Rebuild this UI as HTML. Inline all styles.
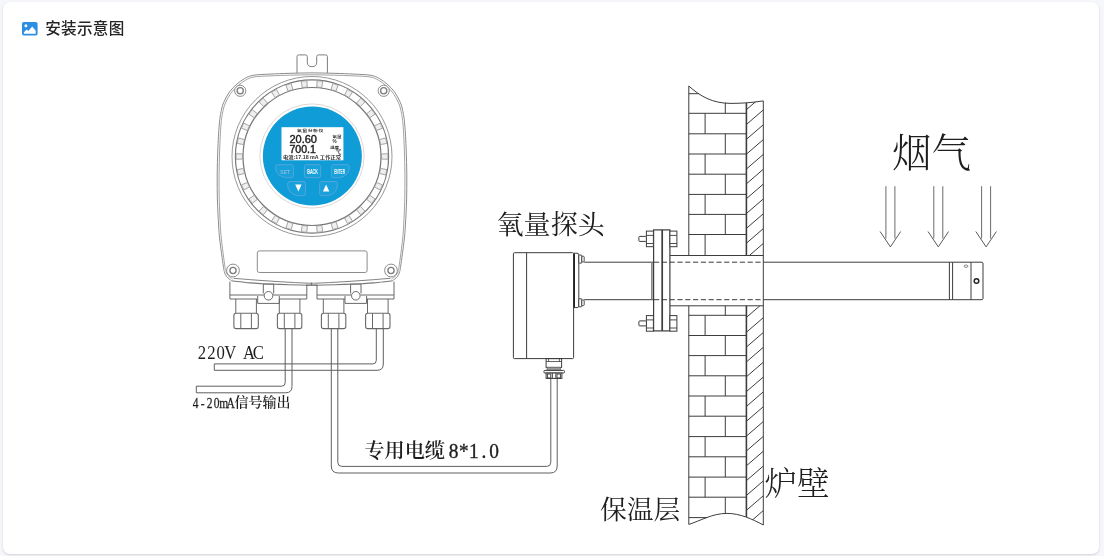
<!DOCTYPE html>
<html lang="zh-CN">
<head>
<meta charset="utf-8">
<title>安装示意图</title>
<style>
html,body{margin:0;padding:0;}
body{width:1104px;height:556px;overflow:hidden;background:#f6f7fa;font-family:"Liberation Sans","Noto Sans CJK SC",sans-serif;position:relative;}
.card{position:absolute;left:3px;top:2px;width:1096.2px;height:551.6px;background:#fff;border-radius:7px;box-shadow:0 1px 3px rgba(0,0,0,.10),0 1px 2px rgba(0,0,0,.06);}
.hd{position:absolute;left:22px;top:17px;height:24px;line-height:24px;font-size:15.6px;letter-spacing:0.3px;color:#262626;white-space:nowrap;will-change:transform;}
.hd svg{position:absolute;left:0;top:5px;}
.hd span{position:absolute;left:23.2px;top:0.3px;font-weight:500;}
.dia{position:absolute;left:0;top:0;width:1104px;height:556px;will-change:transform;}
</style>
</head>
<body>
<div class="card"></div>
<div class="hd">
<svg width="16" height="14" viewBox="0 0 16 14"><rect x="0" y="0" width="15.6" height="13.6" rx="1.8" fill="#2d8fe3"/><circle cx="3.9" cy="3.7" r="1.5" fill="#fff"/><path d="M1.9 11.7 L1.9 10.2 L4.7 7.4 L6.3 9 L10.2 4.6 L13.7 8.8 L13.7 11.7 Z" fill="#fff"/></svg>
<span>安装示意图</span>
</div>
<svg class="dia" width="1104" height="556" viewBox="0 0 1104 556" fill="none" stroke-linecap="butt">
<path d="M297 73.2 L297 56.6 Q297 54.9 298.7 54.9 L305.6 54.9 Q307.3 54.9 307.3 56.6 L307.3 62.2 Q307.3 66.7 312 66.7 Q316.7 66.7 316.7 62.2 L316.7 56.6 Q316.7 54.9 318.4 54.9 L325.7 54.9 Q327.4 54.9 327.4 56.6 L327.4 73.2" fill="none" stroke="#7d7d7d" stroke-width="1" />
<path d="M231.40 280.50 C230.60 279.87 227.77 278.15 226.60 276.70 C225.43 275.25 224.95 273.58 224.40 271.80 C223.85 270.02 224.07 271.30 223.30 266.00 C222.53 260.70 220.58 246.83 219.80 240.00 C219.02 233.17 219.00 231.67 218.60 225.00 C218.20 218.33 217.63 208.33 217.40 200.00 C217.17 191.67 217.13 183.33 217.20 175.00 C217.27 166.67 217.45 158.50 217.80 150.00 C218.15 141.50 218.72 130.60 219.30 124.00 C219.88 117.40 220.52 114.10 221.30 110.40 C222.08 106.70 222.65 104.87 224.00 101.80 C225.35 98.73 227.23 94.97 229.40 92.00 C231.57 89.03 234.48 86.23 237.00 84.00 C239.52 81.77 241.82 80.05 244.50 78.60 C247.18 77.15 248.85 76.05 253.10 75.30 C257.35 74.55 263.85 74.43 270.00 74.10 C276.15 73.77 283.00 73.50 290.00 73.30 C297.00 73.10 304.67 72.90 312.00 72.90 C319.33 72.90 327.00 73.10 334.00 73.30 C341.00 73.50 347.85 73.77 354.00 74.10 C360.15 74.43 366.65 74.55 370.90 75.30 C375.15 76.05 376.82 77.15 379.50 78.60 C382.18 80.05 384.48 81.77 387.00 84.00 C389.52 86.23 392.43 89.03 394.60 92.00 C396.77 94.97 398.65 98.73 400.00 101.80 C401.35 104.87 401.92 106.70 402.70 110.40 C403.48 114.10 404.12 117.40 404.70 124.00 C405.28 130.60 405.85 141.50 406.20 150.00 C406.55 158.50 406.73 166.67 406.80 175.00 C406.87 183.33 406.83 191.67 406.60 200.00 C406.37 208.33 405.80 218.33 405.40 225.00 C405.00 231.67 404.98 233.17 404.20 240.00 C403.42 246.83 401.47 260.70 400.70 266.00 C399.93 271.30 400.15 270.02 399.60 271.80 C399.05 273.58 398.57 275.25 397.40 276.70 C396.23 278.15 393.40 279.87 392.60 280.50 L392.60 280.80 C389.50 281.15 379.22 282.42 374.00 282.90 C368.78 283.38 366.30 283.45 361.30 283.70 C356.30 283.95 350.22 284.18 344.00 284.40 C337.78 284.62 329.33 284.87 324.00 285.00 C318.67 285.13 316.00 285.20 312.00 285.20 C308.00 285.20 305.33 285.13 300.00 285.00 C294.67 284.87 286.22 284.62 280.00 284.40 C273.78 284.18 267.70 283.95 262.70 283.70 C257.70 283.45 255.22 283.38 250.00 282.90 C244.78 282.42 234.50 281.15 231.40 280.80 Z" fill="#fff" stroke="none" stroke-width="0" />
<path d="M231.40 280.50 C230.60 279.87 227.77 278.15 226.60 276.70 C225.43 275.25 224.95 273.58 224.40 271.80 C223.85 270.02 224.07 271.30 223.30 266.00 C222.53 260.70 220.58 246.83 219.80 240.00 C219.02 233.17 219.00 231.67 218.60 225.00 C218.20 218.33 217.63 208.33 217.40 200.00 C217.17 191.67 217.13 183.33 217.20 175.00 C217.27 166.67 217.45 158.50 217.80 150.00 C218.15 141.50 218.72 130.60 219.30 124.00 C219.88 117.40 220.52 114.10 221.30 110.40 C222.08 106.70 222.65 104.87 224.00 101.80 C225.35 98.73 227.23 94.97 229.40 92.00 C231.57 89.03 234.48 86.23 237.00 84.00 C239.52 81.77 241.82 80.05 244.50 78.60 C247.18 77.15 248.85 76.05 253.10 75.30 C257.35 74.55 263.85 74.43 270.00 74.10 C276.15 73.77 283.00 73.50 290.00 73.30 C297.00 73.10 304.67 72.90 312.00 72.90 C319.33 72.90 327.00 73.10 334.00 73.30 C341.00 73.50 347.85 73.77 354.00 74.10 C360.15 74.43 366.65 74.55 370.90 75.30 C375.15 76.05 376.82 77.15 379.50 78.60 C382.18 80.05 384.48 81.77 387.00 84.00 C389.52 86.23 392.43 89.03 394.60 92.00 C396.77 94.97 398.65 98.73 400.00 101.80 C401.35 104.87 401.92 106.70 402.70 110.40 C403.48 114.10 404.12 117.40 404.70 124.00 C405.28 130.60 405.85 141.50 406.20 150.00 C406.55 158.50 406.73 166.67 406.80 175.00 C406.87 183.33 406.83 191.67 406.60 200.00 C406.37 208.33 405.80 218.33 405.40 225.00 C405.00 231.67 404.98 233.17 404.20 240.00 C403.42 246.83 401.47 260.70 400.70 266.00 C399.93 271.30 400.15 270.02 399.60 271.80 C399.05 273.58 398.57 275.25 397.40 276.70 C396.23 278.15 393.40 279.87 392.60 280.50" fill="none" stroke="#8c8c8c" stroke-width="1" />
<path d="M232.56 279.00 C231.77 278.37 228.98 276.68 227.83 275.25 C226.68 273.82 226.21 272.17 225.68 270.40 C225.15 268.63 225.35 269.89 224.63 264.65 C223.91 259.40 222.09 245.67 221.36 238.92 C220.64 232.16 220.64 230.68 220.28 224.12 C219.93 217.55 219.44 207.72 219.24 199.53 C219.04 191.35 219.03 183.19 219.10 175.02 C219.16 166.85 219.32 158.85 219.63 150.51 C219.94 142.16 220.42 131.43 220.96 124.93 C221.49 118.43 222.09 115.16 222.84 111.51 C223.59 107.86 224.14 106.05 225.45 103.02 C226.77 100.00 228.61 96.28 230.73 93.35 C232.86 90.43 235.73 87.67 238.20 85.47 C240.68 83.27 242.94 81.58 245.58 80.16 C248.23 78.74 249.87 77.66 254.06 76.94 C258.25 76.22 264.67 76.15 270.72 75.86 C276.78 75.56 283.52 75.33 290.40 75.16 C297.28 74.98 304.80 74.80 312.00 74.80 C319.20 74.80 326.72 74.98 333.60 75.16 C340.48 75.33 347.22 75.56 353.28 75.86 C359.33 76.15 365.75 76.22 369.94 76.94 C374.13 77.66 375.77 78.74 378.42 80.16 C381.06 81.58 383.32 83.27 385.80 85.47 C388.27 87.67 391.14 90.43 393.27 93.35 C395.39 96.28 397.23 100.00 398.55 103.02 C399.86 106.05 400.41 107.86 401.16 111.51 C401.91 115.16 402.51 118.43 403.04 124.93 C403.58 131.43 404.06 142.16 404.37 150.51 C404.68 158.85 404.84 166.85 404.90 175.02 C404.97 183.19 404.96 191.35 404.76 199.53 C404.56 207.72 404.07 217.55 403.72 224.12 C403.36 230.68 403.36 232.16 402.64 238.92 C401.91 245.67 400.09 259.40 399.37 264.65 C398.65 269.89 398.85 268.63 398.32 270.40 C397.79 272.17 397.32 273.82 396.17 275.25 C395.02 276.68 392.23 278.37 391.44 279.00" fill="none" stroke="#8c8c8c" stroke-width="0.8" />
<path d="M231.40 280.80 C234.50 281.15 244.78 282.42 250.00 282.90 C255.22 283.38 257.70 283.45 262.70 283.70 C267.70 283.95 273.78 284.18 280.00 284.40 C286.22 284.62 294.67 284.87 300.00 285.00 C305.33 285.13 308.00 285.20 312.00 285.20 C316.00 285.20 318.67 285.13 324.00 285.00 C329.33 284.87 337.78 284.62 344.00 284.40 C350.22 284.18 356.30 283.95 361.30 283.70 C366.30 283.45 368.78 283.38 374.00 282.90 C379.22 282.42 389.50 281.15 392.60 280.80" fill="none" stroke="#777" stroke-width="1.1" />
<path d="M233.60 278.30 C236.67 278.55 245.60 279.32 252.00 279.80 C258.40 280.28 265.67 280.78 272.00 281.20 C278.33 281.62 284.33 281.98 290.00 282.30 C295.67 282.62 302.33 282.95 306.00 283.10 C309.67 283.25 310.00 283.20 312.00 283.20 C314.00 283.20 314.33 283.25 318.00 283.10 C321.67 282.95 328.33 282.62 334.00 282.30 C339.67 281.98 345.67 281.62 352.00 281.20 C358.33 280.78 365.60 280.28 372.00 279.80 C378.40 279.32 387.33 278.55 390.40 278.30" fill="none" stroke="#808080" stroke-width="1" />
<circle cx="240.20" cy="90.80" r="5.60" fill="#fff" stroke="#8c8c8c" stroke-width="1"/>
<circle cx="240.20" cy="90.80" r="3.10" fill="none" stroke="#7c7c7c" stroke-width="1.3"/>
<circle cx="383.70" cy="90.80" r="5.60" fill="#fff" stroke="#8c8c8c" stroke-width="1"/>
<circle cx="383.70" cy="90.80" r="3.10" fill="none" stroke="#7c7c7c" stroke-width="1.3"/>
<circle cx="233.00" cy="270.50" r="6.40" fill="#fff" stroke="#8c8c8c" stroke-width="1"/>
<circle cx="233.00" cy="270.50" r="3.10" fill="none" stroke="#7c7c7c" stroke-width="1.3"/>
<circle cx="391.00" cy="270.50" r="6.40" fill="#fff" stroke="#8c8c8c" stroke-width="1"/>
<circle cx="391.00" cy="270.50" r="3.10" fill="none" stroke="#7c7c7c" stroke-width="1.3"/>
<circle cx="312.00" cy="156.50" r="80.00" fill="none" stroke="#8c8c8c" stroke-width="0.9"/>
<circle cx="312.00" cy="156.50" r="76.60" fill="none" stroke="#777" stroke-width="1.2"/>
<circle cx="312.00" cy="156.50" r="69.00" fill="none" stroke="#777" stroke-width="1.2"/>
<path d="M307.27 87.06 L306.83 80.68 L301.29 81.26 L302.19 87.59 Z" fill="#efefef" stroke="#909090" stroke-width="0.8" />
<path d="M292.93 89.56 L291.18 83.41 L285.88 85.13 L288.08 91.14 Z" fill="#efefef" stroke="#909090" stroke-width="0.8" />
<path d="M279.43 94.99 L276.44 89.33 L271.61 92.12 L275.01 97.54 Z" fill="#efefef" stroke="#909090" stroke-width="0.8" />
<path d="M267.36 103.11 L263.25 98.20 L259.11 101.92 L263.56 106.52 Z" fill="#efefef" stroke="#909090" stroke-width="0.8" />
<path d="M257.23 113.55 L252.19 109.61 L248.92 114.11 L254.23 117.68 Z" fill="#efefef" stroke="#909090" stroke-width="0.8" />
<path d="M249.50 125.88 L243.75 123.06 L241.48 128.15 L247.42 130.54 Z" fill="#efefef" stroke="#909090" stroke-width="0.8" />
<path d="M244.50 139.54 L238.29 137.99 L237.13 143.43 L243.44 144.53 Z" fill="#efefef" stroke="#909090" stroke-width="0.8" />
<path d="M242.45 153.95 L236.05 153.72 L236.05 159.28 L242.45 159.05 Z" fill="#efefef" stroke="#909090" stroke-width="0.8" />
<path d="M243.44 168.47 L237.13 169.57 L238.29 175.01 L244.50 173.46 Z" fill="#efefef" stroke="#909090" stroke-width="0.8" />
<path d="M247.42 182.46 L241.48 184.85 L243.75 189.94 L249.50 187.12 Z" fill="#efefef" stroke="#909090" stroke-width="0.8" />
<path d="M254.23 195.32 L248.92 198.89 L252.19 203.39 L257.23 199.45 Z" fill="#efefef" stroke="#909090" stroke-width="0.8" />
<path d="M263.56 206.48 L259.11 211.08 L263.25 214.80 L267.36 209.89 Z" fill="#efefef" stroke="#909090" stroke-width="0.8" />
<path d="M275.01 215.46 L271.61 220.88 L276.44 223.67 L279.43 218.01 Z" fill="#efefef" stroke="#909090" stroke-width="0.8" />
<path d="M288.08 221.86 L285.88 227.87 L291.18 229.59 L292.93 223.44 Z" fill="#efefef" stroke="#909090" stroke-width="0.8" />
<path d="M302.19 225.41 L301.29 231.74 L306.83 232.32 L307.27 225.94 Z" fill="#efefef" stroke="#909090" stroke-width="0.8" />
<path d="M316.73 225.94 L317.17 232.32 L322.71 231.74 L321.81 225.41 Z" fill="#efefef" stroke="#909090" stroke-width="0.8" />
<path d="M331.07 223.44 L332.82 229.59 L338.12 227.87 L335.92 221.86 Z" fill="#efefef" stroke="#909090" stroke-width="0.8" />
<path d="M344.57 218.01 L347.56 223.67 L352.39 220.88 L348.99 215.46 Z" fill="#efefef" stroke="#909090" stroke-width="0.8" />
<path d="M356.64 209.89 L360.75 214.80 L364.89 211.08 L360.44 206.48 Z" fill="#efefef" stroke="#909090" stroke-width="0.8" />
<path d="M366.77 199.45 L371.81 203.39 L375.08 198.89 L369.77 195.32 Z" fill="#efefef" stroke="#909090" stroke-width="0.8" />
<path d="M374.50 187.12 L380.25 189.94 L382.52 184.85 L376.58 182.46 Z" fill="#efefef" stroke="#909090" stroke-width="0.8" />
<path d="M379.50 173.46 L385.71 175.01 L386.87 169.57 L380.56 168.47 Z" fill="#efefef" stroke="#909090" stroke-width="0.8" />
<path d="M381.55 159.05 L387.95 159.28 L387.95 153.72 L381.55 153.95 Z" fill="#efefef" stroke="#909090" stroke-width="0.8" />
<path d="M380.56 144.53 L386.87 143.43 L385.71 137.99 L379.50 139.54 Z" fill="#efefef" stroke="#909090" stroke-width="0.8" />
<path d="M376.58 130.54 L382.52 128.15 L380.25 123.06 L374.50 125.88 Z" fill="#efefef" stroke="#909090" stroke-width="0.8" />
<path d="M369.77 117.68 L375.08 114.11 L371.81 109.61 L366.77 113.55 Z" fill="#efefef" stroke="#909090" stroke-width="0.8" />
<path d="M360.44 106.52 L364.89 101.92 L360.75 98.20 L356.64 103.11 Z" fill="#efefef" stroke="#909090" stroke-width="0.8" />
<path d="M348.99 97.54 L352.39 92.12 L347.56 89.33 L344.57 94.99 Z" fill="#efefef" stroke="#909090" stroke-width="0.8" />
<path d="M335.92 91.14 L338.12 85.13 L332.82 83.41 L331.07 89.56 Z" fill="#efefef" stroke="#909090" stroke-width="0.8" />
<path d="M321.81 87.59 L322.71 81.26 L317.17 80.68 L316.73 87.06 Z" fill="#efefef" stroke="#909090" stroke-width="0.8" />
<circle cx="312.00" cy="156.00" r="52.10" fill="none" stroke="#d8cdca" stroke-width="0.8"/>
<circle cx="312.35" cy="156.10" r="49.50" fill="#109cd7" stroke="none" stroke-width="0"/>
<rect x="281.50" y="127.20" width="61.90" height="33.10" rx="0" fill="#fff" stroke="none" stroke-width="0"/>
<text transform="translate(310.4,132.4) scale(1,0.78)" x="0" y="0" font-family="'Liberation Sans','Noto Sans CJK SC',sans-serif" font-size="5" font-weight="700" fill="#333" text-anchor="middle" letter-spacing="0.4">氧量分析仪</text>
<text x="289.4" y="143" font-family="'Liberation Sans','Noto Sans CJK SC',sans-serif" font-size="10.2" fill="#222" stroke="#222" stroke-width="0.4" textLength="27.6" lengthAdjust="spacingAndGlyphs">20.60</text>
<text x="289.4" y="152.9" font-family="'Liberation Sans','Noto Sans CJK SC',sans-serif" font-size="10.2" fill="#222" stroke="#222" stroke-width="0.4" textLength="26.6" lengthAdjust="spacingAndGlyphs">700.1</text>
<text transform="translate(332.5,137.8) scale(1,0.85)" x="0" y="0" font-family="'Liberation Sans','Noto Sans CJK SC',sans-serif" font-size="4.6" font-weight="700" fill="#333">氧量</text>
<text x="332.4" y="143" font-family="'Liberation Sans','Noto Sans CJK SC',sans-serif" font-size="4.6" font-weight="700" fill="#333">%</text>
<text transform="translate(329.9,148.7) scale(1,0.85)" x="0" y="0" font-family="'Liberation Sans','Noto Sans CJK SC',sans-serif" font-size="4.6" font-weight="700" fill="#333">温度</text>
<text x="336.2" y="153.6" font-family="'Liberation Sans','Noto Sans CJK SC',sans-serif" font-size="5.2" font-weight="700" fill="#333">℃</text>
<text x="283" y="159.3" font-family="'Liberation Sans','Noto Sans CJK SC',sans-serif" font-size="4.6" font-weight="700" fill="#333" textLength="58" lengthAdjust="spacingAndGlyphs">电流:17.18 mA 工作正常</text>
<path d="M278.1 164.7 L291.40000000000003 164.7 Q293.40000000000003 164.7 293.40000000000003 166.7 L293.40000000000003 175.7 Q293.40000000000003 177.7 291.40000000000003 177.7 L285.39000000000004 177.7 Q275.6 175.7 275.6 167.2 Q275.6 164.7 278.1 164.7 Z" fill="#18a0da" stroke="#5aa6dc" stroke-width="0.9" />
<path d="M306.4 164.7 L318.7 164.7 Q320.7 164.7 320.7 166.7 L320.7 175.7 Q320.7 177.7 318.7 177.7 L306.4 177.7 Q304.4 177.7 304.4 175.7 L304.4 166.7 Q304.4 164.7 306.4 164.7 Z" fill="#18a0da" stroke="#5aa6dc" stroke-width="0.9" />
<path d="M333.6 164.7 L346.90000000000003 164.7 Q349.40000000000003 164.7 349.40000000000003 167.2 Q349.40000000000003 175.7 339.61 177.7 L333.6 177.7 Q331.6 177.7 331.6 175.7 L331.6 166.7 Q331.6 164.7 333.6 164.7 Z" fill="#18a0da" stroke="#5aa6dc" stroke-width="0.9" />
<path d="M290.1 181.5 L303.40000000000003 181.5 Q305.40000000000003 181.5 305.40000000000003 183.5 L305.40000000000003 193.7 Q305.40000000000003 195.7 303.40000000000003 195.7 L297.39000000000004 195.7 Q287.6 193.7 287.6 184.0 Q287.6 181.5 290.1 181.5 Z" fill="#18a0da" stroke="#5aa6dc" stroke-width="0.9" />
<path d="M321.7 181.5 L335.0 181.5 Q337.5 181.5 337.5 184.0 Q337.5 193.7 327.71 195.7 L321.7 195.7 Q319.7 195.7 319.7 193.7 L319.7 183.5 Q319.7 181.5 321.7 181.5 Z" fill="#18a0da" stroke="#5aa6dc" stroke-width="0.9" />
<text x="280.3" y="173.5" font-family="'Liberation Sans','Noto Sans CJK SC',sans-serif" font-size="5.6" font-weight="700" fill="#8fb8da" textLength="9.8" lengthAdjust="spacingAndGlyphs">SET</text>
<text x="307.2" y="173.8" font-family="'Liberation Sans','Noto Sans CJK SC',sans-serif" font-size="6.6" font-weight="700" fill="#fff" textLength="10.8" lengthAdjust="spacingAndGlyphs">BACK</text>
<text x="334.2" y="173.8" font-family="'Liberation Sans','Noto Sans CJK SC',sans-serif" font-size="6.6" font-weight="700" fill="#fff" textLength="10.8" lengthAdjust="spacingAndGlyphs">ENTER</text>
<path d="M295.2 184.6 L301.6 184.6 L298.4 191.6 Z" fill="#fff" stroke="none" stroke-width="0" />
<path d="M322.9 191.6 L329.3 191.6 L326.1 184.6 Z" fill="#fff" stroke="none" stroke-width="0" />
<rect x="257.30" y="250.90" width="109.80" height="21.60" rx="2" fill="none" stroke="#8c8c8c" stroke-width="1"/>
<line x1="229.90" y1="281.60" x2="229.90" y2="299.00" stroke="#686868" stroke-width="1" />
<line x1="306.80" y1="284.60" x2="306.80" y2="299.00" stroke="#686868" stroke-width="1" />
<line x1="229.90" y1="295.00" x2="263.90" y2="295.00" stroke="#686868" stroke-width="1" />
<line x1="273.10" y1="295.00" x2="306.80" y2="295.00" stroke="#686868" stroke-width="1" />
<line x1="229.90" y1="299.00" x2="257.70" y2="299.00" stroke="#686868" stroke-width="1" />
<line x1="279.30" y1="299.00" x2="306.80" y2="299.00" stroke="#686868" stroke-width="1" />
<line x1="263.30" y1="284.00" x2="263.30" y2="293.50" stroke="#686868" stroke-width="1" />
<line x1="273.70" y1="284.00" x2="273.70" y2="293.50" stroke="#686868" stroke-width="1" />
<line x1="263.30" y1="284.20" x2="273.70" y2="284.20" stroke="#686868" stroke-width="0.8" />
<circle cx="268.50" cy="295.80" r="4.30" fill="#fff" stroke="#686868" stroke-width="1"/>
<path d="M257.7 296 L257.7 303.4 L279.3 303.4 L279.3 296" fill="none" stroke="#686868" stroke-width="1" />
<line x1="317.00" y1="284.60" x2="317.00" y2="299.00" stroke="#686868" stroke-width="1" />
<line x1="394.00" y1="281.60" x2="394.00" y2="299.00" stroke="#686868" stroke-width="1" />
<line x1="317.00" y1="295.00" x2="351.20" y2="295.00" stroke="#686868" stroke-width="1" />
<line x1="360.40" y1="295.00" x2="394.00" y2="295.00" stroke="#686868" stroke-width="1" />
<line x1="317.00" y1="299.00" x2="345.00" y2="299.00" stroke="#686868" stroke-width="1" />
<line x1="366.60" y1="299.00" x2="394.00" y2="299.00" stroke="#686868" stroke-width="1" />
<line x1="350.60" y1="284.00" x2="350.60" y2="293.50" stroke="#686868" stroke-width="1" />
<line x1="361.00" y1="284.00" x2="361.00" y2="293.50" stroke="#686868" stroke-width="1" />
<line x1="350.60" y1="284.20" x2="361.00" y2="284.20" stroke="#686868" stroke-width="0.8" />
<circle cx="355.80" cy="295.80" r="4.30" fill="#fff" stroke="#686868" stroke-width="1"/>
<path d="M345.0 296 L345.0 303.4 L366.6 303.4 L366.6 296" fill="none" stroke="#686868" stroke-width="1" />
<line x1="311.40" y1="282.60" x2="311.40" y2="285.00" stroke="#686868" stroke-width="0.9" />
<line x1="306.80" y1="285.00" x2="317.00" y2="285.00" stroke="#686868" stroke-width="0.8" />
<line x1="235.80" y1="299.00" x2="235.80" y2="313.30" stroke="#686868" stroke-width="1" />
<line x1="256.40" y1="299.00" x2="256.40" y2="313.30" stroke="#686868" stroke-width="1" />
<rect x="233.90" y="313.30" width="24.40" height="15.30" rx="2.2" fill="#fff" stroke="#686868" stroke-width="1.1"/>
<line x1="240.80" y1="313.30" x2="240.80" y2="328.60" stroke="#686868" stroke-width="1" />
<line x1="251.40" y1="313.30" x2="251.40" y2="328.60" stroke="#686868" stroke-width="1" />
<line x1="279.30" y1="299.00" x2="279.30" y2="313.30" stroke="#686868" stroke-width="1" />
<line x1="299.90" y1="299.00" x2="299.90" y2="313.30" stroke="#686868" stroke-width="1" />
<rect x="277.40" y="313.30" width="24.40" height="15.30" rx="2.2" fill="#fff" stroke="#686868" stroke-width="1.1"/>
<line x1="284.30" y1="313.30" x2="284.30" y2="328.60" stroke="#686868" stroke-width="1" />
<line x1="294.90" y1="313.30" x2="294.90" y2="328.60" stroke="#686868" stroke-width="1" />
<line x1="323.30" y1="299.00" x2="323.30" y2="313.30" stroke="#686868" stroke-width="1" />
<line x1="343.90" y1="299.00" x2="343.90" y2="313.30" stroke="#686868" stroke-width="1" />
<rect x="321.40" y="313.30" width="24.40" height="15.30" rx="2.2" fill="#fff" stroke="#686868" stroke-width="1.1"/>
<line x1="328.30" y1="313.30" x2="328.30" y2="328.60" stroke="#686868" stroke-width="1" />
<line x1="338.90" y1="313.30" x2="338.90" y2="328.60" stroke="#686868" stroke-width="1" />
<line x1="367.50" y1="299.00" x2="367.50" y2="313.30" stroke="#686868" stroke-width="1" />
<line x1="388.10" y1="299.00" x2="388.10" y2="313.30" stroke="#686868" stroke-width="1" />
<rect x="365.60" y="313.30" width="24.40" height="15.30" rx="2.2" fill="#fff" stroke="#686868" stroke-width="1.1"/>
<line x1="372.50" y1="313.30" x2="372.50" y2="328.60" stroke="#686868" stroke-width="1" />
<line x1="383.10" y1="313.30" x2="383.10" y2="328.60" stroke="#686868" stroke-width="1" />
<path d="M376.3 328.8 L376.3 360.4 Q376.3 363.9 372.8 363.9 L214.3 363.9 L214.3 370.3 L377 370.3 Q383.3 370.3 383.3 364 L383.3 328.8" fill="none" stroke="#5f5f5f" stroke-width="1" />
<path d="M285.2 328.8 L285.2 382.7 Q285.2 386.2 281.7 386.2 L196.3 386.2 L196.3 392.8 L285.7 392.8 Q292 392.8 292 386.5 L292 328.8" fill="none" stroke="#5f5f5f" stroke-width="1" />
<path d="M331.3 328.8 L331.3 466 Q331.3 473 338.3 473 L550.2 473 Q557.2 473 557.2 466 L557.2 378.4" fill="none" stroke="#5f5f5f" stroke-width="1" />
<path d="M337.8 328.8 L337.8 462.4 Q337.8 466.4 341.8 466.4 L546.8 466.4 Q550.8 466.4 550.8 462.4 L550.8 378.4" fill="none" stroke="#5f5f5f" stroke-width="1" />
<text transform="scale(0.86,1)" x="234.78 245.73 256.69 267.64 278.59 289.55 300.50" y="358.9" font-family="'Liberation Serif','Noto Serif CJK SC',serif" font-size="19.4" fill="#1e1e1e" text-anchor="middle" xml:space="preserve" >220V AC</text>
<text transform="scale(0.8,1)" x="244.62 253.37 262.12 270.87 279.62 288.37" y="407.6" font-family="'Liberation Serif','Noto Serif CJK SC',serif" font-size="14.4" fill="#1e1e1e" text-anchor="middle" xml:space="preserve" stroke="#1e1e1e" stroke-width="0.25">4-20mA</text>
<text x="234.6" y="407.4" font-family="'Liberation Serif','Noto Serif CJK SC',serif" font-size="14" font-weight="600" fill="#1e1e1e" textLength="56" lengthAdjust="spacing">信号输出</text>
<text x="364.4" y="458.2" font-family="'Liberation Serif','Noto Serif CJK SC',serif" font-size="20.2" font-weight="600" fill="#1e1e1e" textLength="80.6" lengthAdjust="spacing">专用电缆</text>
<text transform="scale(0.95,1)" x="477.53 488.16 498.79 509.42 520.05" y="458.2" font-family="'Liberation Serif','Noto Serif CJK SC',serif" font-size="20.4" fill="#1e1e1e" text-anchor="middle" xml:space="preserve" stroke="#1e1e1e" stroke-width="0.35">8*1.0</text>
<text x="496.6" y="234.1" font-family="'Liberation Serif','Noto Serif CJK SC',serif" font-size="26" fill="#1e1e1e" textLength="108.1" lengthAdjust="spacingAndGlyphs">氧量探头</text>
<text x="891.9" y="167.1" font-family="'Liberation Serif','Noto Serif CJK SC',serif" font-size="39.7" font-weight="300" fill="#1e1e1e" textLength="79.4" lengthAdjust="spacing">烟气</text>
<text x="764.4" y="495.1" font-family="'Liberation Serif','Noto Serif CJK SC',serif" font-size="32.6" font-weight="300" fill="#1e1e1e" textLength="65.2" lengthAdjust="spacing">炉壁</text>
<text x="600" y="518.5" font-family="'Liberation Serif','Noto Serif CJK SC',serif" font-size="26" fill="#1e1e1e" textLength="80.4" lengthAdjust="spacingAndGlyphs">保温层</text>
<rect x="513.40" y="252.70" width="60.20" height="105.90" rx="1" fill="none" stroke="#3c3c3c" stroke-width="1"/>
<line x1="526.60" y1="252.70" x2="526.60" y2="358.60" stroke="#3c3c3c" stroke-width="1" />
<line x1="574.20" y1="253.40" x2="574.20" y2="307.40" stroke="#222" stroke-width="1.6" />
<path d="M574 253.2 L577 253.2 Q578.8 253.2 578.8 255 L578.8 305.8 Q578.8 307.6 577 307.6 L574 307.6" fill="none" stroke="#3c3c3c" stroke-width="1" />
<rect x="578.80" y="255.10" width="3.00" height="8.00" rx="0.5" fill="#fff" stroke="#3c3c3c" stroke-width="1"/>
<rect x="581.80" y="256.30" width="2.40" height="5.60" rx="0.8" fill="#fff" stroke="#3c3c3c" stroke-width="0.9"/>
<rect x="578.80" y="298.80" width="3.00" height="8.00" rx="0.5" fill="#fff" stroke="#3c3c3c" stroke-width="1"/>
<rect x="581.80" y="300.00" width="2.40" height="5.60" rx="0.8" fill="#fff" stroke="#3c3c3c" stroke-width="0.9"/>
<rect x="546.10" y="358.60" width="15.50" height="8.80" rx="0" fill="none" stroke="#3c3c3c" stroke-width="1"/>
<line x1="548.60" y1="358.60" x2="548.60" y2="361.50" stroke="#3c3c3c" stroke-width="0.8" />
<line x1="559.40" y1="358.60" x2="559.40" y2="361.50" stroke="#3c3c3c" stroke-width="0.8" />
<line x1="546.10" y1="361.50" x2="561.60" y2="361.50" stroke="#3c3c3c" stroke-width="0.8" />
<rect x="547.00" y="367.20" width="13.70" height="3.00" rx="0" fill="#9a9a9a" stroke="#666" stroke-width="0.6"/>
<rect x="543.90" y="370.40" width="20.60" height="2.60" rx="1" fill="#fff" stroke="#3c3c3c" stroke-width="1"/>
<rect x="546.10" y="373.00" width="15.80" height="5.40" rx="0" fill="#fff" stroke="#3c3c3c" stroke-width="1"/>
<rect x="547.40" y="374.00" width="3.40" height="4.00" rx="0" fill="none" stroke="#333" stroke-width="0.9"/>
<rect x="557.00" y="374.00" width="3.40" height="4.00" rx="0" fill="none" stroke="#333" stroke-width="0.9"/>
<line x1="552.40" y1="373.00" x2="552.40" y2="378.40" stroke="#3c3c3c" stroke-width="0.9" />
<line x1="555.80" y1="373.00" x2="555.80" y2="378.40" stroke="#3c3c3c" stroke-width="0.9" />
<line x1="584.20" y1="262.20" x2="653.40" y2="262.20" stroke="#3c3c3c" stroke-width="1" />
<line x1="584.20" y1="299.70" x2="653.40" y2="299.70" stroke="#3c3c3c" stroke-width="1" />
<line x1="763.30" y1="262.20" x2="982.20" y2="262.20" stroke="#3c3c3c" stroke-width="1" />
<line x1="763.30" y1="299.70" x2="982.20" y2="299.70" stroke="#3c3c3c" stroke-width="1" />
<path d="M982.2 262.2 L983 263 L983 298.9 L982.2 299.7" fill="none" stroke="#3c3c3c" stroke-width="1" />
<line x1="949.40" y1="262.20" x2="949.40" y2="299.70" stroke="#3c3c3c" stroke-width="1" />
<line x1="952.60" y1="262.20" x2="952.60" y2="299.70" stroke="#3c3c3c" stroke-width="1" />
<line x1="971.00" y1="262.20" x2="971.00" y2="299.70" stroke="#3c3c3c" stroke-width="1" />
<ellipse cx="966" cy="266.2" rx="1.9" ry="1.2" stroke="#555" stroke-width="0.7" fill="#fff"/>
<circle cx="976.50" cy="281.00" r="2.30" fill="#fff" stroke="#222" stroke-width="1.5"/>
<line x1="669.80" y1="255.50" x2="763.30" y2="255.50" stroke="#3c3c3c" stroke-width="1" />
<line x1="669.80" y1="305.80" x2="763.30" y2="305.80" stroke="#3c3c3c" stroke-width="1" />
<rect x="653.60" y="229.90" width="16.30" height="101.00" rx="0" fill="#fff" stroke="#3c3c3c" stroke-width="1.2"/>
<line x1="662.20" y1="229.90" x2="662.20" y2="330.90" stroke="#3c3c3c" stroke-width="1.7" />
<line x1="651.90" y1="262.20" x2="651.90" y2="299.70" stroke="#777" stroke-width="1.5" />
<line x1="654.00" y1="262.20" x2="763.00" y2="262.20" stroke="#3c3c3c" stroke-width="1" stroke-dasharray="5.2 2.6"/>
<line x1="654.00" y1="299.70" x2="763.00" y2="299.70" stroke="#3c3c3c" stroke-width="1" stroke-dasharray="5.2 2.6"/>
<rect x="646.40" y="231.10" width="7.00" height="15.60" rx="0" fill="#fff" stroke="#3c3c3c" stroke-width="1"/>
<line x1="646.40" y1="235.40" x2="653.40" y2="235.40" stroke="#3c3c3c" stroke-width="0.9" />
<line x1="646.40" y1="243.50" x2="653.40" y2="243.50" stroke="#3c3c3c" stroke-width="0.9" />
<rect x="638.90" y="236.40" width="7.50" height="5.00" rx="0.8" fill="#fff" stroke="#3c3c3c" stroke-width="1"/>
<rect x="669.90" y="231.10" width="7.00" height="15.60" rx="0" fill="#fff" stroke="#3c3c3c" stroke-width="1"/>
<line x1="669.90" y1="235.40" x2="676.90" y2="235.40" stroke="#3c3c3c" stroke-width="0.9" />
<line x1="669.90" y1="243.50" x2="676.90" y2="243.50" stroke="#3c3c3c" stroke-width="0.9" />
<rect x="646.40" y="315.60" width="7.00" height="15.60" rx="0" fill="#fff" stroke="#3c3c3c" stroke-width="1"/>
<line x1="646.40" y1="319.90" x2="653.40" y2="319.90" stroke="#3c3c3c" stroke-width="0.9" />
<line x1="646.40" y1="328.00" x2="653.40" y2="328.00" stroke="#3c3c3c" stroke-width="0.9" />
<rect x="638.90" y="320.90" width="7.50" height="5.00" rx="0.8" fill="#fff" stroke="#3c3c3c" stroke-width="1"/>
<rect x="669.90" y="315.60" width="7.00" height="15.60" rx="0" fill="#fff" stroke="#3c3c3c" stroke-width="1"/>
<line x1="669.90" y1="319.90" x2="676.90" y2="319.90" stroke="#3c3c3c" stroke-width="0.9" />
<line x1="669.90" y1="328.00" x2="676.90" y2="328.00" stroke="#3c3c3c" stroke-width="0.9" />
<line x1="885.90" y1="186.20" x2="885.90" y2="238.50" stroke="#5a5a5a" stroke-width="0.9" />
<line x1="894.90" y1="186.20" x2="894.90" y2="238.50" stroke="#5a5a5a" stroke-width="0.9" />
<path d="M880.1 231.5 L890.4 246.9 L900.6999999999999 231.5" fill="none" stroke="#5a5a5a" stroke-width="1" />
<line x1="933.80" y1="186.20" x2="933.80" y2="238.50" stroke="#5a5a5a" stroke-width="0.9" />
<line x1="942.80" y1="186.20" x2="942.80" y2="238.50" stroke="#5a5a5a" stroke-width="0.9" />
<path d="M928.0 231.5 L938.3 246.9 L948.5999999999999 231.5" fill="none" stroke="#5a5a5a" stroke-width="1" />
<line x1="981.60" y1="186.20" x2="981.60" y2="238.50" stroke="#5a5a5a" stroke-width="0.9" />
<line x1="990.60" y1="186.20" x2="990.60" y2="238.50" stroke="#5a5a5a" stroke-width="0.9" />
<path d="M975.8000000000001 231.5 L986.1 246.9 L996.4 231.5" fill="none" stroke="#5a5a5a" stroke-width="1" />
<path d="M688.8 86 C700 96 712 103.4 731 103.4 C742 103.4 752 102.6 763.3 100.9" fill="none" stroke="#3c3c3c" stroke-width="1" />
<path d="M688.8 524.4 C700 521 712 513.4 727 513.4 C740 513.4 752 519 763.3 525" fill="none" stroke="#3c3c3c" stroke-width="1" />
<line x1="688.80" y1="86.00" x2="688.80" y2="255.60" stroke="#3c3c3c" stroke-width="1" />
<line x1="688.80" y1="305.80" x2="688.80" y2="524.40" stroke="#3c3c3c" stroke-width="1" />
<line x1="763.30" y1="100.90" x2="763.30" y2="525.00" stroke="#3c3c3c" stroke-width="1" />
<line x1="746.40" y1="103.00" x2="746.40" y2="255.60" stroke="#3c3c3c" stroke-width="1.6" />
<line x1="746.40" y1="305.80" x2="746.40" y2="517.00" stroke="#3c3c3c" stroke-width="1.6" />
<line x1="688.80" y1="93.70" x2="698.70" y2="93.70" stroke="#3c3c3c" stroke-width="1" />
<line x1="688.80" y1="113.30" x2="746.40" y2="113.30" stroke="#3c3c3c" stroke-width="1" />
<line x1="688.80" y1="133.80" x2="746.40" y2="133.80" stroke="#3c3c3c" stroke-width="1" />
<line x1="688.80" y1="154.00" x2="746.40" y2="154.00" stroke="#3c3c3c" stroke-width="1" />
<line x1="688.80" y1="174.20" x2="746.40" y2="174.20" stroke="#3c3c3c" stroke-width="1" />
<line x1="688.80" y1="194.40" x2="746.40" y2="194.40" stroke="#3c3c3c" stroke-width="1" />
<line x1="688.80" y1="214.40" x2="746.40" y2="214.40" stroke="#3c3c3c" stroke-width="1" />
<line x1="688.80" y1="234.50" x2="746.40" y2="234.50" stroke="#3c3c3c" stroke-width="1" />
<line x1="688.80" y1="315.30" x2="746.40" y2="315.30" stroke="#3c3c3c" stroke-width="1" />
<line x1="688.80" y1="335.50" x2="746.40" y2="335.50" stroke="#3c3c3c" stroke-width="1" />
<line x1="688.80" y1="355.60" x2="746.40" y2="355.60" stroke="#3c3c3c" stroke-width="1" />
<line x1="688.80" y1="375.80" x2="746.40" y2="375.80" stroke="#3c3c3c" stroke-width="1" />
<line x1="688.80" y1="396.00" x2="746.40" y2="396.00" stroke="#3c3c3c" stroke-width="1" />
<line x1="688.80" y1="416.20" x2="746.40" y2="416.20" stroke="#3c3c3c" stroke-width="1" />
<line x1="688.80" y1="436.60" x2="746.40" y2="436.60" stroke="#3c3c3c" stroke-width="1" />
<line x1="688.80" y1="456.80" x2="746.40" y2="456.80" stroke="#3c3c3c" stroke-width="1" />
<line x1="688.80" y1="477.10" x2="746.40" y2="477.10" stroke="#3c3c3c" stroke-width="1" />
<line x1="688.80" y1="497.20" x2="746.40" y2="497.20" stroke="#3c3c3c" stroke-width="1" />
<line x1="688.80" y1="517.60" x2="707.50" y2="517.60" stroke="#3c3c3c" stroke-width="1" />
<line x1="725.30" y1="102.60" x2="725.30" y2="113.30" stroke="#3c3c3c" stroke-width="1" />
<line x1="705.10" y1="113.30" x2="705.10" y2="133.80" stroke="#3c3c3c" stroke-width="1" />
<line x1="725.30" y1="133.80" x2="725.30" y2="154.00" stroke="#3c3c3c" stroke-width="1" />
<line x1="705.10" y1="154.00" x2="705.10" y2="174.20" stroke="#3c3c3c" stroke-width="1" />
<line x1="725.30" y1="174.20" x2="725.30" y2="194.40" stroke="#3c3c3c" stroke-width="1" />
<line x1="705.10" y1="194.40" x2="705.10" y2="214.40" stroke="#3c3c3c" stroke-width="1" />
<line x1="725.30" y1="214.40" x2="725.30" y2="234.50" stroke="#3c3c3c" stroke-width="1" />
<line x1="705.10" y1="234.50" x2="705.10" y2="255.60" stroke="#3c3c3c" stroke-width="1" />
<line x1="725.30" y1="305.80" x2="725.30" y2="315.30" stroke="#3c3c3c" stroke-width="1" />
<line x1="705.10" y1="315.30" x2="705.10" y2="335.50" stroke="#3c3c3c" stroke-width="1" />
<line x1="725.30" y1="335.50" x2="725.30" y2="355.60" stroke="#3c3c3c" stroke-width="1" />
<line x1="705.10" y1="355.60" x2="705.10" y2="375.80" stroke="#3c3c3c" stroke-width="1" />
<line x1="725.30" y1="375.80" x2="725.30" y2="396.00" stroke="#3c3c3c" stroke-width="1" />
<line x1="705.10" y1="396.00" x2="705.10" y2="416.20" stroke="#3c3c3c" stroke-width="1" />
<line x1="725.30" y1="416.20" x2="725.30" y2="436.60" stroke="#3c3c3c" stroke-width="1" />
<line x1="705.10" y1="436.60" x2="705.10" y2="456.80" stroke="#3c3c3c" stroke-width="1" />
<line x1="725.30" y1="456.80" x2="725.30" y2="477.10" stroke="#3c3c3c" stroke-width="1" />
<line x1="705.10" y1="477.10" x2="705.10" y2="497.20" stroke="#3c3c3c" stroke-width="1" />
<line x1="725.30" y1="497.20" x2="725.30" y2="514.00" stroke="#3c3c3c" stroke-width="1" />
<clipPath id="hc"><path d="M746.4 50 L746.4 103 L763.3 100.9 L763.3 255.6 L746.4 255.6 Z M746.4 305.8 L763.3 305.8 L763.3 525 L746.4 517 Z"/></clipPath>
<g clip-path="url(#hc)">
<line x1="746.40" y1="94.82" x2="763.30" y2="80.22" stroke="#3c3c3c" stroke-width="1" />
<line x1="746.40" y1="109.66" x2="763.30" y2="95.06" stroke="#3c3c3c" stroke-width="1" />
<line x1="746.40" y1="124.50" x2="763.30" y2="109.90" stroke="#3c3c3c" stroke-width="1" />
<line x1="746.40" y1="139.34" x2="763.30" y2="124.74" stroke="#3c3c3c" stroke-width="1" />
<line x1="746.40" y1="154.18" x2="763.30" y2="139.58" stroke="#3c3c3c" stroke-width="1" />
<line x1="746.40" y1="169.02" x2="763.30" y2="154.42" stroke="#3c3c3c" stroke-width="1" />
<line x1="746.40" y1="183.86" x2="763.30" y2="169.26" stroke="#3c3c3c" stroke-width="1" />
<line x1="746.40" y1="198.70" x2="763.30" y2="184.10" stroke="#3c3c3c" stroke-width="1" />
<line x1="746.40" y1="213.54" x2="763.30" y2="198.94" stroke="#3c3c3c" stroke-width="1" />
<line x1="746.40" y1="228.38" x2="763.30" y2="213.78" stroke="#3c3c3c" stroke-width="1" />
<line x1="746.40" y1="243.22" x2="763.30" y2="228.62" stroke="#3c3c3c" stroke-width="1" />
<line x1="746.40" y1="258.06" x2="763.30" y2="243.46" stroke="#3c3c3c" stroke-width="1" />
<line x1="746.40" y1="272.90" x2="763.30" y2="258.30" stroke="#3c3c3c" stroke-width="1" />
<line x1="746.40" y1="287.74" x2="763.30" y2="273.14" stroke="#3c3c3c" stroke-width="1" />
<line x1="746.40" y1="302.58" x2="763.30" y2="287.98" stroke="#3c3c3c" stroke-width="1" />
<line x1="746.40" y1="317.42" x2="763.30" y2="302.82" stroke="#3c3c3c" stroke-width="1" />
<line x1="746.40" y1="332.26" x2="763.30" y2="317.66" stroke="#3c3c3c" stroke-width="1" />
<line x1="746.40" y1="347.10" x2="763.30" y2="332.50" stroke="#3c3c3c" stroke-width="1" />
<line x1="746.40" y1="361.94" x2="763.30" y2="347.34" stroke="#3c3c3c" stroke-width="1" />
<line x1="746.40" y1="376.78" x2="763.30" y2="362.18" stroke="#3c3c3c" stroke-width="1" />
<line x1="746.40" y1="391.62" x2="763.30" y2="377.02" stroke="#3c3c3c" stroke-width="1" />
<line x1="746.40" y1="406.46" x2="763.30" y2="391.86" stroke="#3c3c3c" stroke-width="1" />
<line x1="746.40" y1="421.30" x2="763.30" y2="406.70" stroke="#3c3c3c" stroke-width="1" />
<line x1="746.40" y1="436.14" x2="763.30" y2="421.54" stroke="#3c3c3c" stroke-width="1" />
<line x1="746.40" y1="450.98" x2="763.30" y2="436.38" stroke="#3c3c3c" stroke-width="1" />
<line x1="746.40" y1="465.82" x2="763.30" y2="451.22" stroke="#3c3c3c" stroke-width="1" />
<line x1="746.40" y1="480.66" x2="763.30" y2="466.06" stroke="#3c3c3c" stroke-width="1" />
<line x1="746.40" y1="495.50" x2="763.30" y2="480.90" stroke="#3c3c3c" stroke-width="1" />
<line x1="746.40" y1="510.34" x2="763.30" y2="495.74" stroke="#3c3c3c" stroke-width="1" />
<line x1="746.40" y1="525.18" x2="763.30" y2="510.58" stroke="#3c3c3c" stroke-width="1" />
<line x1="746.40" y1="540.02" x2="763.30" y2="525.42" stroke="#3c3c3c" stroke-width="1" />
</g>
</svg>
</body>
</html>
